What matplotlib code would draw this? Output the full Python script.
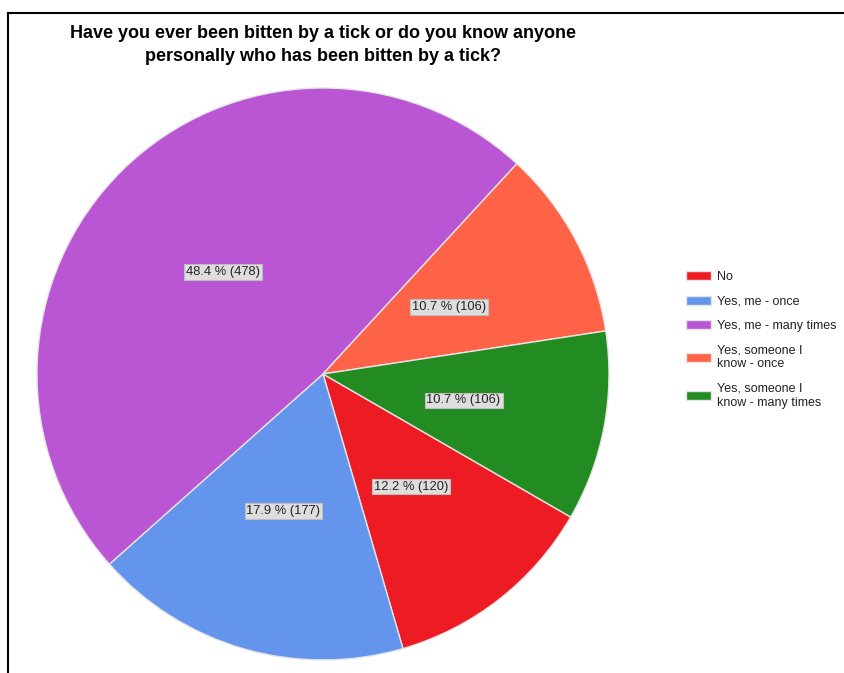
import matplotlib.pyplot as plt
from matplotlib.lines import Line2D

plt.rcParams['font.family'] = ['Liberation Sans', 'DejaVu Sans']

TITLE = ('Have you ever been bitten by a tick or do you know anyone\n'
         'personally who has been bitten by a tick?')
LABELS = ['No', 'Yes, me - once', 'Yes, me - many times',
          'Yes, someone I\nknow - once', 'Yes, someone I\nknow - many times']
COUNTS = [120, 177, 478, 106, 106]
COLORS = ['#ED1C24', '#6495ED', '#BA55D3', '#FF6347', '#228B22']

W, H = 844, 673
total = sum(COUNTS)


def pct_label(p):
    return '%.1f %% (%d)' % (p, round(p * total / 100.0))


fig = plt.figure(figsize=(W / 100, H / 100), dpi=100)

# pie centred at (323, 374) px with radius 286 px
cx, cy, r = 323, 374, 286
ax = fig.add_axes([(cx - r) / W, (H - cy - r) / H, 2 * r / W, 2 * r / H])
wedges, _, autotexts = ax.pie(
    COUNTS, colors=COLORS, startangle=-30, counterclock=False,
    autopct=pct_label, pctdistance=0.5, radius=1,
    wedgeprops=dict(edgecolor='#E4E4E4', linewidth=1.0),
)
for t in autotexts:
    t.set_fontsize(9.3)
    t.set_color('#222222')
    t.set_bbox(dict(boxstyle='square,pad=0.15', facecolor='#DEDEDE',
                    edgecolor='#BDBDBD', linewidth=0.8))
ax.set_xlim(-1, 1)
ax.set_ylim(-1, 1)
ax.set_aspect('equal')
ax.axis('off')

fig.text(323 / W, 1 - 45 / H, TITLE, ha='center', va='center',
         fontsize=13, fontweight='bold', linespacing=1.4)

leg = fig.legend(wedges, LABELS, loc='upper left',
                 bbox_to_anchor=(686 / W, 1 - 271 / H), frameon=False,
                 fontsize=9, handlelength=2.0, handleheight=0.7,
                 handletextpad=0.5, labelspacing=1.0, borderpad=0,
                 borderaxespad=0)
for t in leg.get_texts():
    t.set_linespacing(1.2)
    t.set_color('#222222')

# frame lines on the left and top edges
fig.add_artist(Line2D([8 / W, 8 / W], [0, 1 - 13 / H], color='black',
                      linewidth=1.5, transform=fig.transFigure))
fig.add_artist(Line2D([8 / W, 1], [1 - 13 / H, 1 - 13 / H], color='black',
                      linewidth=1.5, transform=fig.transFigure))

fig.savefig('out.png', dpi=100)
